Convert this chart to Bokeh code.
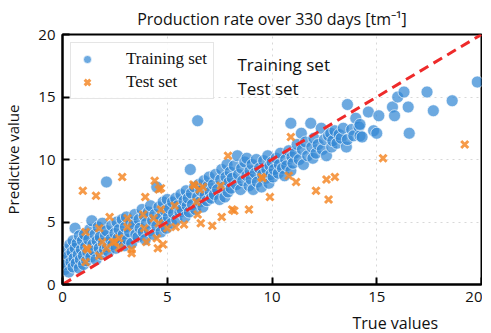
from bokeh.plotting import figure
from bokeh.models import Label, Title, Range1d, FixedTicker, Legend, LegendItem
from bokeh.embed import file_html
from bokeh.resources import INLINE

# ---------------- data ----------------
train_x = [0.1, 0.15, 0.2, 0.25, 0.3, 0.3, 0.35, 0.4, 0.45, 0.5, 0.5, 0.55, 0.6, 0.6, 0.65, 0.7, 0.75, 0.8, 0.8, 0.85, 0.9, 0.95, 1.0, 1.0,
           1.05, 1.1, 1.15, 1.2, 1.25, 1.3, 1.35, 1.4, 1.45, 1.5, 1.55, 1.6, 1.65, 1.7, 1.75, 1.8, 1.85, 1.9, 1.95, 2.0,
           2.05, 2.1, 2.1, 2.15, 2.2, 2.3, 2.35, 2.4, 2.5, 2.55, 2.6, 2.65, 2.7, 2.8, 2.85, 2.9, 2.95,
           3.0, 3.05, 3.1, 3.2, 3.25, 3.3, 3.4, 3.45, 3.5, 3.6, 3.65, 3.7, 3.8, 3.85, 3.9, 3.95,
           4.0, 4.1, 4.15, 4.2, 4.3, 4.35, 4.4, 4.5, 4.5, 4.6, 4.65, 4.7, 4.8, 4.85, 4.9, 4.95,
           5.0, 5.05, 5.1, 5.2, 5.25, 5.3, 5.4, 5.45, 5.5, 5.6, 5.65, 5.7, 5.8, 5.85, 5.9, 5.95,
           6.0, 6.05, 6.1, 6.15, 6.2, 6.3, 6.35, 6.45, 6.45, 6.5, 6.55, 6.6, 6.7, 6.75, 6.8, 6.9, 6.95,
           7.0, 7.05, 7.1, 7.2, 7.25, 7.3, 7.4, 7.5, 7.55, 7.6, 7.7, 7.75, 7.8, 7.85, 7.9, 7.95,
           8.0, 8.05, 8.1, 8.2, 8.3, 8.35, 8.4, 8.5, 8.55, 8.6, 8.7, 8.8, 8.8, 8.9, 8.95,
           9.0, 9.05, 9.1, 9.2, 9.25, 9.3, 9.4, 9.5, 9.55, 9.6, 9.7, 9.75, 9.8, 9.85, 9.9, 9.95,
           10.0, 10.05, 10.1, 10.2, 10.3, 10.35, 10.4, 10.5, 10.6, 10.65, 10.7, 10.8, 10.9, 10.9, 10.95,
           11.0, 11.1, 11.2, 11.3, 11.4, 11.45, 11.5, 11.6, 11.7, 11.85, 11.9, 11.95,
           12.0, 12.1, 12.2, 12.35, 12.4, 12.5, 12.6, 12.7, 12.8, 12.85, 12.9,
           13.0, 13.1, 13.2, 13.3, 13.4, 13.55, 13.6, 13.6, 13.8, 13.9, 14.0, 14.15,
           14.2, 14.3, 14.2, 14.6, 14.85, 15.0, 15.1, 15.75, 15.85, 16.0, 16.3, 16.5, 16.55, 17.4, 17.7, 18.6, 19.8]
train_y = [1.2, 2.0, 1.6, 2.8, 1.0, 2.3, 3.2, 1.8, 2.6, 1.4, 3.5, 2.1, 4.5, 2.9, 1.7, 3.3, 2.4, 1.3, 3.9, 2.0, 2.8, 3.5, 1.6, 2.3,
           4.0, 3.0, 1.9, 2.6, 3.6, 4.4, 2.2, 5.1, 3.2, 2.7, 4.0, 2.0, 3.5, 4.6, 2.9, 3.8, 2.4, 4.9, 3.3, 2.8,
           3.9, 8.2, 4.3, 3.0, 2.6, 3.6, 4.7, 3.2, 4.1, 2.9, 5.0, 3.7, 4.4, 3.4, 5.2, 4.0, 3.1,
           4.6, 5.4, 3.6, 4.2, 5.0, 3.3, 4.8, 5.6, 4.0, 3.8, 5.2, 4.5, 6.0, 4.2, 5.5, 3.6,
           4.9, 5.8, 4.3, 6.3, 5.1, 4.0, 5.6, 7.8, 4.7, 6.2, 5.3, 4.2, 6.6, 5.0, 5.9, 4.5,
           6.8, 5.4, 6.1, 4.9, 6.6, 5.7, 6.9, 5.2, 6.3, 5.8, 7.2, 6.0, 6.7, 5.4, 7.5, 6.3,
           6.9, 5.8, 9.2, 7.3, 6.4, 7.8, 6.0, 13.1, 7.0, 8.0, 6.6, 7.5, 6.2, 8.3, 7.1, 6.7, 7.9,
           8.6, 7.4, 6.9, 8.0, 7.2, 8.8, 7.6, 6.8, 8.4, 9.2, 7.8, 7.0, 8.6, 9.6, 7.4, 8.2,
           9.0, 7.7, 8.5, 9.5, 8.0, 10.3, 8.8, 7.6, 9.3, 8.3, 9.8, 10.1, 8.7, 7.9, 9.1,
           8.4, 9.6, 7.6, 8.9, 10.0, 8.2, 9.3, 7.8, 8.8, 9.9, 8.5, 9.2, 10.3, 8.1, 9.5, 8.8,
           9.8, 8.6, 9.2, 10.1, 8.9, 9.6, 10.5, 9.3, 8.7, 10.0, 9.5, 10.7, 12.9, 9.1, 10.2,
           9.7, 10.5, 11.2, 10.0, 12.1, 10.8, 9.6, 11.4, 10.3, 12.9, 11.0, 10.1,
           11.7, 10.5, 11.2, 12.5, 10.8, 11.6, 10.3, 11.9, 12.1, 11.0, 11.5,
           12.3, 11.3, 12.0, 11.7, 12.5, 11.0, 11.6, 14.4, 12.4, 11.9, 13.3, 12.6,
           11.9, 11.8, 12.8, 13.8, 12.3, 12.1, 13.5, 14.2, 13.5, 15.0, 15.4, 14.2, 12.1, 15.4, 13.9, 14.7, 16.2]

test_x = [0.97, 1.6, 2.85, 4.4, 4.7, 3.95, 2.25, 1.1, 1.75, 1.15, 1.1, 1.75, 2.5, 2.7, 3.1, 3.3, 3.85, 4.0, 4.35, 4.55,
          4.8, 4.7, 5.0, 6.25, 6.55, 6.45, 6.6, 7.15, 7.6, 7.9, 8.1, 8.9, 8.2, 9.55, 7.55, 6.3, 6.7, 6.4, 5.35, 5.4,
          5.8, 10.9, 12.6, 13.0, 12.1, 12.7, 9.9, 11.15, 10.8, 9.5, 15.3, 19.2,
          3.1, 3.9, 4.6, 2.4, 2.1, 1.2, 2.7, 3.3, 4.5, 1.9, 4.6]
test_y = [7.5, 7.1, 8.6, 8.3, 7.7, 7.0, 5.4, 4.2, 4.5, 2.9, 1.8, 2.3, 3.4, 3.7, 4.6, 2.5, 5.6, 3.4, 5.3, 2.9,
          3.2, 6.0, 4.5, 8.0, 7.6, 5.6, 4.9, 4.7, 5.4, 10.3, 6.0, 6.0, 5.9, 8.5, 7.9, 7.9, 7.8, 6.6, 6.3, 4.6,
          4.8, 11.8, 8.4, 8.6, 7.5, 6.8, 7.0, 8.2, 8.7, 8.6, 10.1, 11.2,
          5.3, 4.5, 4.9, 3.4, 2.9, 2.8, 2.95, 2.8, 3.7, 3.4, 7.6]

ideal = [0, 20]
ticks = [0, 5, 10, 15, 20]

# ---------------- figure ----------------
p = figure(frame_width=419, frame_height=250, output_backend="svg", toolbar_location=None,
           x_range=Range1d(0, 20), y_range=Range1d(0, 20),
           min_border_left=55, min_border_right=1, min_border_top=25, min_border_bottom=42)
p.background_fill_color = "white"
p.border_fill_color = "white"
p.outline_line_color = "black"
p.outline_line_width = 2
p.outline_line_alpha = 1

p.title.text = "Production rate over 330 days [tm\u207b\u00b9]"
p.title.align = "center"
p.title.text_font = "Open Sans"
p.title.text_font_size = "16px"
p.title.text_font_style = "normal"
p.title.text_color = "#111111"

for ax in (p.xaxis[0], p.yaxis[0]):
    ax.ticker = FixedTicker(ticks=ticks)
    ax.minor_tick_line_color = None
    ax.major_tick_in = 7
    ax.major_tick_out = 0
    ax.major_tick_line_width = 2
    ax.axis_line_width = 2
    ax.major_label_text_font = "Open Sans"
    ax.major_label_text_font_size = "15px"
    ax.major_label_text_color = "#111111"
    ax.major_label_standoff = 7
    ax.axis_label_text_font = "Open Sans"
    ax.axis_label_text_font_size = "15px"
    ax.axis_label_text_font_style = "normal"
    ax.axis_label_text_color = "#111111"

p.yaxis.axis_label = "Predictive value"
p.yaxis.axis_label_standoff = 12
p.yaxis.major_label_orientation = "horizontal"
p.xaxis.axis_label = None

p.grid.grid_line_color = "#d8d8d8"
p.grid.grid_line_dash = "dotted"
p.grid.grid_line_width = 1

r_train = p.scatter(train_x, train_y, marker="circle", size=12,
                    fill_color="#3388d4", fill_alpha=0.72,
                    line_color="white", line_width=0.8, line_alpha=0.8)
r_test = p.scatter(test_x, test_y, marker="x", size=10,
                   line_color="#f48a2a", line_alpha=0.85, line_width=3)
p.line(ideal, ideal, line_color="#ee2a2a", line_width=3, line_dash="10 6")

legend = Legend(items=[LegendItem(label="Training set", renderers=[r_train]),
                       LegendItem(label="Test set", renderers=[r_test])],
                location="top_left")
legend.label_text_font = "Liberation Serif"
legend.label_text_font_size = "17px"
legend.label_text_color = "#111111"
legend.border_line_color = "#cccccc"
legend.border_line_width = 1.5
legend.background_fill_alpha = 0.9
legend.margin = 8
legend.padding = 6
legend.spacing = 3
legend.label_standoff = 29
legend.glyph_width = 20
legend.glyph_height = 20
p.add_layout(legend)

p.add_layout(Label(x=8.35, y=17.6, text="Training set", text_font="Open Sans",
                   text_font_size="17px", text_baseline="middle", text_color="#111111"))
p.add_layout(Label(x=8.35, y=15.7, text="Test set", text_font="Open Sans",
                   text_font_size="17px", text_baseline="middle", text_color="#111111"))

xt = Title(text="True values", align="left", offset=290, text_font="Open Sans",
           text_font_size="16px", text_font_style="normal", text_color="#111111")
p.add_layout(xt, "below")

open("out.html", "w").write(file_html(p, INLINE))
